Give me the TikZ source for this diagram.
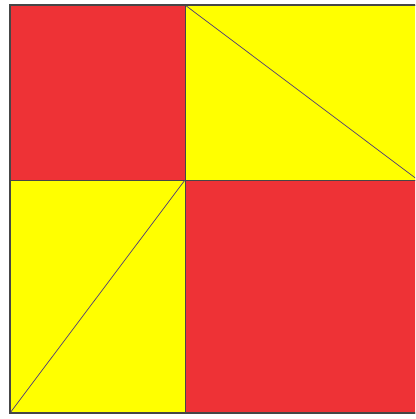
\documentclass[tikz,border=0pt]{standalone}
\usepackage{tikz}
\definecolor{flagred}   {RGB}{238,50,54}
\definecolor{flagyellow}{RGB}{255,255,0}
\definecolor{edgegray}  {RGB}{70,70,70}
\definecolor{diagblue}  {RGB}{80,60,120}

\begin{document}
\begin{tikzpicture}[
    x=0.025cm,y=-0.025cm,
    redpart/.style   ={fill=flagred,draw=edgegray,line width=0.6pt},
    yellowpart/.style={fill=flagyellow,draw=edgegray,line width=0.6pt},
    diag/.style      ={draw=diagblue,line width=0.5pt},
  ]
  \useasboundingbox (0,0) rectangle (415,419);
  \clip (0,0) rectangle (415,419);

  %% Corner points (right side runs past the frame)
  \coordinate (tl) at (10,5);
  \coordinate (tm) at (185,5);
  \coordinate (tr) at (418,5);
  \coordinate (ml) at (10,180);
  \coordinate (c)  at (185,180);
  \coordinate (mr) at (418,180);
  \coordinate (bl) at (10,413);
  \coordinate (bm) at (185,413);
  \coordinate (br) at (418,413);

  %% Quarters
  \path[redpart]    (tl) rectangle (c);
  \path[yellowpart] (tm) rectangle (mr);
  \path[yellowpart] (ml) rectangle (bm);
  \path[redpart]    (c)  rectangle (br);

  %% Diagonals
  \path[diag] (tm) -- (mr);
  \path[diag] (bl) -- (c);

  %% Outer edge
  \draw[edgegray,line width=0.8pt] (tl) rectangle (br);
\end{tikzpicture}
\end{document}
